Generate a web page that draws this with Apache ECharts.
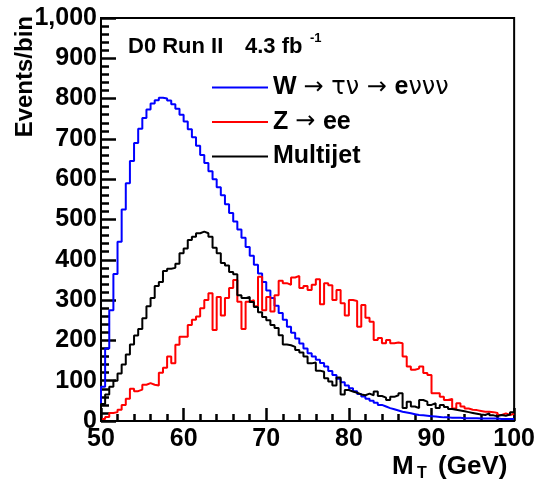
<!DOCTYPE html>
<html>
<head>
<meta charset="utf-8">
<script src="https://cdn.jsdelivr.net/npm/echarts@6/dist/echarts.min.js"></script>
<style>
  html, body { margin: 0; padding: 0; background: #fff; }
  #chart { width: 538px; height: 486px; }
</style>
</head>
<body>
<div id="chart"></div>
<script>
// Binning of the transverse-mass histograms (GeV)
const binLow = 50;
const binWidth = 0.5;

// Events per 0.5 GeV bin, 50 -> 100 GeV
const wTauNu = [
  85, 180, 275, 365, 445, 525, 590, 645, 690, 725,
  752, 773, 788, 796, 802, 800, 795, 786, 775, 760,
  743, 724, 704, 683, 660, 640, 620, 600, 580, 560,
  538, 516, 495, 475, 455, 432, 410, 388, 366, 345,
  324, 305, 286, 268, 251, 234, 219, 205, 192, 180,
  168, 160, 152, 144, 135, 124, 114, 105, 96, 88,
  81, 74, 67, 61, 55, 50, 45, 40, 36, 32,
  29, 26, 23, 21, 19, 17, 15, 14, 13, 12,
  11, 10, 9, 9, 8, 8, 8, 7, 7, 7,
  7, 6, 6, 6, 6, 6, 5, 5, 5, 5
];

const zee = [
  5, 10, 20, 22, 28, 40, 55, 80, 74, 78,
  90, 94, 90, 88, 120, 132, 160, 143, 189, 209,
  209, 238, 251, 259, 280, 300, 317, 226, 308, 262,
  305, 330, 350, 296, 228, 296, 300, 285, 358, 275,
  308, 272, 312, 348, 342, 338, 356, 360, 330, 335,
  325, 338, 352, 290, 342, 337, 300, 325, 292, 262,
  300, 298, 234, 288, 256, 246, 201, 206, 193, 201,
  193, 195, 193, 160, 135, 127, 130, 135, 119, 114,
  69, 69, 60, 52, 55, 31, 44, 36, 31, 28,
  27, 25, 23, 23, 22, 20, 15, 19, 15, 18
];

const multijet = [
  42, 66, 85, 100, 118, 140, 165, 190, 212, 228,
  255, 285, 305, 335, 345, 372, 378, 380, 390, 416,
  428, 449, 457, 466, 470, 466, 457, 430, 416, 392,
  386, 370, 364, 312, 305, 308, 295, 283, 270, 258,
  250, 238, 231, 213, 190, 188, 184, 176, 170, 160,
  143, 145, 125, 122, 106, 98, 88, 108, 66, 77,
  73, 70, 66, 64, 68, 64, 73, 62, 58, 52,
  60, 64, 69, 32, 48, 36, 32, 52, 48, 40,
  44, 32, 40, 35, 30, 28, 26, 24, 22, 20,
  18, 16, 15, 19, 14, 12, 15, 13, 16, 22
];

const seriesNames = ['W \u2192 \u03c4\u03bd \u2192 e\u03bd\u03bd\u03bd', 'Z \u2192 ee', 'Multijet'];
const seriesColors = ['#0000ff', '#ff0000', '#000000'];

// Axis ranges and tick spacing
const xTicks = [50, 60, 70, 80, 90, 100];
const yTicks = [0, 100, 200, 300, 400, 500, 600, 700, 800, 900, 1000];

// Histogram outline: one point per bin low edge, stepped at the edges
function histPoints(values) {
  const pts = [[binLow, 0]];
  values.forEach((v, i) => pts.push([binLow + i * binWidth, v]));
  pts.push([binLow + values.length * binWidth, values[values.length - 1]]);
  return pts;
}

const SANS = '"Liberation Sans", Arial, Helvetica, sans-serif';
const SYM = '"DejaVu Sans", sans-serif';

const legendRich = {};
legendRich[seriesNames[0]] = '{b|W }{g|\u2192 \u03c4\u03bd \u2192 }{b|e}{g|\u03bd\u03bd\u03bd}';
legendRich[seriesNames[1]] = '{b|Z }{g|\u2192 }{b|ee}';
legendRich[seriesNames[2]] = '{b|Multijet}';

const labelStyle = { color: '#000', fontFamily: SANS, fontWeight: 'bold', fontSize: 25 };

const chart = echarts.init(document.getElementById('chart'));

chart.setOption({
  animation: false,
  grid: {
    left: 101, right: 23, top: 18, bottom: 65,
    show: true, borderColor: '#000', borderWidth: 2
  },
  xAxis: {
    type: 'value',
    min: xTicks[0], max: xTicks[xTicks.length - 1], interval: xTicks[1] - xTicks[0],
    axisLine: { show: true, lineStyle: { color: '#000', width: 2 } },
    axisTick: { show: true, inside: true, length: 13, lineStyle: { color: '#000', width: 2.5 } },
    minorTick: { show: true, splitNumber: 5, length: 7, lineStyle: { color: '#000', width: 2.5 } },
    splitLine: { show: false },
    axisLabel: Object.assign({ show: true, margin: 6 }, labelStyle)
  },
  yAxis: {
    type: 'value',
    min: yTicks[0], max: yTicks[yTicks.length - 1], interval: yTicks[1] - yTicks[0],
    axisLine: { show: true, lineStyle: { color: '#000', width: 2 } },
    axisTick: { show: true, inside: true, length: 15, lineStyle: { color: '#000', width: 2.5 } },
    minorTick: { show: true, splitNumber: 5, length: 8, lineStyle: { color: '#000', width: 2.5 } },
    splitLine: { show: false },
    axisLabel: Object.assign({ show: true, margin: 4, formatter: '{value}' }, labelStyle)
  },
  legend: {
    show: true,
    orient: 'vertical',
    left: 207, top: 70,
    itemWidth: 56, itemHeight: 2, itemGap: 9.5,
    icon: 'rect',
    selectedMode: false,
    data: seriesNames,
    formatter: name => legendRich[name],
    textStyle: {
      color: '#000',
      rich: {
        b: { fontFamily: SANS, fontWeight: 'bold', fontSize: 25, lineHeight: 24, color: '#000' },
        g: { fontFamily: SYM, fontWeight: 'normal', fontSize: 24, lineHeight: 24, color: '#000' }
      }
    }
  },
  series: [wTauNu, zee, multijet].map((vals, i) => ({
    name: seriesNames[i],
    type: 'line',
    step: 'end',
    symbol: 'none',
    data: histPoints(vals),
    color: seriesColors[i],
    lineStyle: { color: seriesColors[i], width: 2 },
    z: 2 + i
  })),
  graphic: [
    // y axis title
    {
      type: 'text', x: 25, y: 16, rotation: Math.PI / 2,
      style: {
        text: 'Events/bin', fill: '#000', align: 'right', verticalAlign: 'middle',
        font: 'bold 24px ' + SANS
      }
    },
    // x axis title M_T (GeV)
    { type: 'text', x: 392, y: 454, style: { text: 'M', fill: '#000', font: 'bold 26px ' + SANS } },
    { type: 'text', x: 417, y: 466, style: { text: 'T', fill: '#000', font: 'bold 16px ' + SANS } },
    { type: 'text', x: 438, y: 454, style: { text: '(GeV)', fill: '#000', font: 'bold 26px ' + SANS } },
    // experiment / luminosity label
    { type: 'text', x: 128, y: 36, style: { text: 'D0 Run II', fill: '#000', font: 'bold 22px ' + SANS } },
    { type: 'text', x: 245, y: 36, style: { text: '4.3 fb', fill: '#000', font: 'bold 22px ' + SANS } },
    { type: 'text', x: 310, y: 32, style: { text: '-1', fill: '#000', font: 'bold 13px ' + SANS } }
  ]
});
</script>
</body>
</html>
